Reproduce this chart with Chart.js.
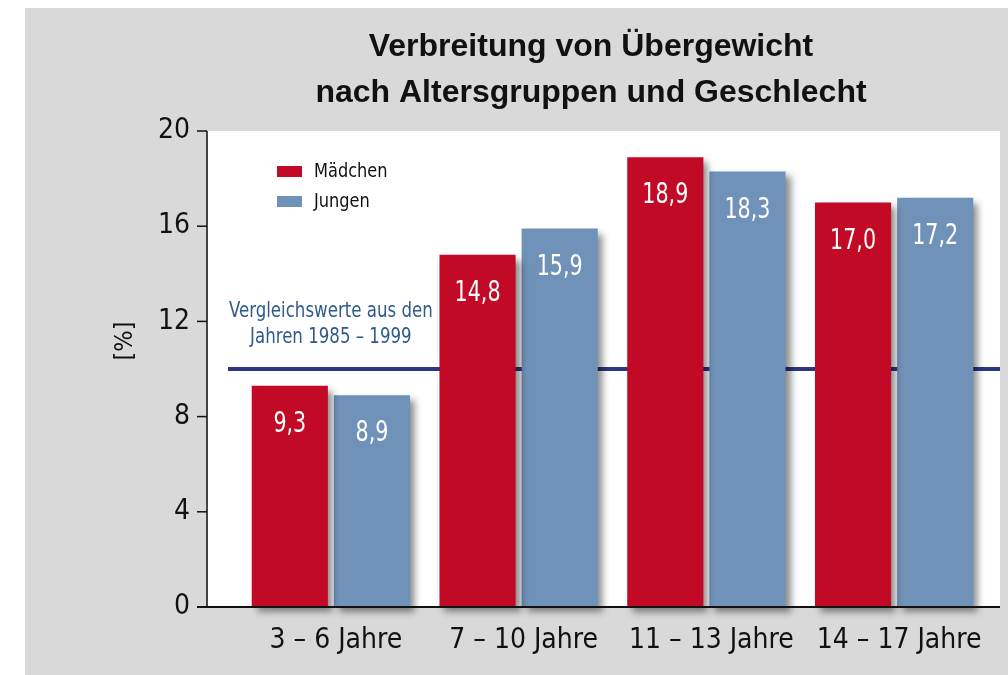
<!DOCTYPE html>
<html>
<head>
<meta charset="utf-8">
<script src="https://cdn.jsdelivr.net/npm/chart.js@4.4.1/dist/chart.umd.min.js"></script>
<style>
  html, body { margin: 0; padding: 0; background: #fff; }
  #wrap { width: 1008px; height: 675px; }
</style>
</head>
<body>
<div id="wrap"><canvas id="obChart" width="1008" height="675"></canvas></div>
<script>
var categories = ['3 – 6 Jahre', '7 – 10 Jahre', '11 – 13 Jahre', '14 – 17 Jahre'];
var maedchen = [9.3, 14.8, 18.9, 17.0];
var jungen = [8.9, 15.9, 18.3, 17.2];
var seriesNames = ['Mädchen', 'Jungen'];
var yTicks = [0, 4, 8, 12, 16, 20];
var referenceValue = 10;
var referenceText = ['Vergleichswerte aus den', 'Jahren 1985 – 1999'];
var titleLines = ['Verbreitung von Übergewicht', 'nach Altersgruppen und Geschlecht'];
var yTitle = '[%]';

var NARROW = "'Liberation Sans Narrow', 'DejaVu Sans Condensed', sans-serif";
var RED = '#c20a27';
var BLUE = '#7092b8';

function fmt(v) {
    return v.toFixed(1).replace('.', ',');
}

// narrow text helper (squeeze horizontally a bit)
function narrowText(ctx, txt, x, y, sx) {
    ctx.save();
    ctx.translate(x, y);
    ctx.scale(sx, 1);
    ctx.fillText(txt, 0, 0);
    ctx.restore();
}

// background, plot frame, axes, reference line
var framePlugin = {
    id: 'frame',
    beforeDraw: function(chart) {
        var ctx = chart.ctx, y = chart.scales.y;
        ctx.save();
        ctx.fillStyle = '#d9d9d9';
        ctx.fillRect(25, 8, 983, 667);
        ctx.fillStyle = '#ffffff';
        ctx.fillRect(207, y.getPixelForValue(20), 793, y.getPixelForValue(0) - y.getPixelForValue(20));
        ctx.restore();
    },
    beforeDatasetsDraw: function(chart) {
        var ctx = chart.ctx, y = chart.scales.y;
        var ry = y.getPixelForValue(referenceValue);
        ctx.save();
        ctx.strokeStyle = '#2b3784';
        ctx.lineWidth = 4;
        ctx.beginPath();
        ctx.moveTo(228, ry);
        ctx.lineTo(1000, ry);
        ctx.stroke();
        ctx.fillStyle = '#2e5a8c';
        ctx.font = '21px ' + NARROW;
        ctx.textAlign = 'center';
        ctx.textBaseline = 'middle';
        var cx = chart.scales.x.getPixelForValue(0);
        narrowText(ctx, referenceText[0], cx, ry - 57, 0.88);
        narrowText(ctx, referenceText[1], cx, ry - 31, 0.88);
        ctx.restore();
    },
    afterDatasetsDraw: function(chart) {
        var ctx = chart.ctx, y = chart.scales.y;
        var top = y.getPixelForValue(20), bottom = y.getPixelForValue(0);
        ctx.save();
        // y axis line and ticks
        ctx.strokeStyle = '#444';
        ctx.lineWidth = 2;
        ctx.beginPath();
        ctx.moveTo(207, top);
        ctx.lineTo(207, bottom);
        ctx.stroke();
        ctx.strokeStyle = '#111';
        ctx.lineWidth = 1.5;
        yTicks.forEach(function(t) {
            var py = y.getPixelForValue(t);
            ctx.beginPath();
            ctx.moveTo(197, py);
            ctx.lineTo(207, py);
            ctx.stroke();
        });
        // x axis line
        ctx.strokeStyle = '#111';
        ctx.lineWidth = 2;
        ctx.beginPath();
        ctx.moveTo(197, bottom);
        ctx.lineTo(1000, bottom);
        ctx.stroke();

        // value labels
        ctx.fillStyle = '#fff';
        ctx.font = '28px ' + NARROW;
        ctx.textAlign = 'center';
        ctx.textBaseline = 'middle';
        chart.data.datasets.forEach(function(ds, i) {
            chart.getDatasetMeta(i).data.forEach(function(bar, j) {
                narrowText(ctx, fmt(ds.data[j]), bar.x, bar.y + 39, 0.82);
            });
        });

        // legend
        ctx.font = '20px ' + NARROW;
        ctx.textAlign = 'left';
        chart.data.datasets.forEach(function(ds, i) {
            var ly = 171 + i * 30;
            ctx.fillStyle = ds.backgroundColor;
            ctx.fillRect(277, ly - 5, 25, 11);
            ctx.fillStyle = '#111';
            narrowText(ctx, ds.label, 314, ly + 1, 0.9);
        });

        // title
        ctx.fillStyle = '#111';
        ctx.font = 'bold 32px "Liberation Sans", Arial, sans-serif';
        ctx.textAlign = 'center';
        ctx.fillText(titleLines[0], 591, 47);
        ctx.fillText(titleLines[1], 591, 93);

        // y title
        ctx.translate(125, 341);
        ctx.rotate(-Math.PI / 2);
        ctx.font = '25px ' + NARROW;
        ctx.fillText(yTitle, 0, 0);
        ctx.restore();
    }
};

// drop shadow under bars
var shadowPlugin = {
    id: 'barShadow',
    beforeDatasetDraw: function(chart) {
        var ctx = chart.ctx;
        ctx.save();
        ctx.shadowColor = 'rgba(0,0,0,0.45)';
        ctx.shadowBlur = 7;
        ctx.shadowOffsetX = 5;
        ctx.shadowOffsetY = 5;
    },
    afterDatasetDraw: function(chart) {
        chart.ctx.restore();
    }
};

new Chart(document.getElementById('obChart'), {
    type: 'bar',
    data: {
        labels: categories,
        datasets: [
            { label: seriesNames[0], data: maedchen, backgroundColor: RED, clip: false },
            { label: seriesNames[1], data: jungen, backgroundColor: BLUE, clip: false }
        ]
    },
    options: {
        responsive: false,
        animation: false,
        categoryPercentage: 0.875,
        barPercentage: 0.927,
        layout: { padding: { top: 131, right: 20, left: 0, bottom: 0 } },
        plugins: {
            legend: { display: false },
            title: { display: false },
            tooltip: { enabled: false }
        },
        scales: {
            x: {
                grid: { display: false },
                border: { display: false },
                ticks: {
                    color: '#111',
                    font: { family: NARROW, size: 28 },
                    padding: 9,
                    labelOffset: 5,
                    maxRotation: 0
                },
                afterFit: function(scale) { scale.height = 68; }
            },
            y: {
                min: 0,
                max: 20,
                grid: { display: false, drawTicks: false },
                border: { display: false },
                ticks: {
                    stepSize: 4,
                    color: '#111',
                    font: { family: NARROW, size: 28 },
                    padding: 47
                },
                afterFit: function(scale) { scale.width = 237; }
            }
        }
    },
    plugins: [framePlugin, shadowPlugin]
});
</script>
</body>
</html>
